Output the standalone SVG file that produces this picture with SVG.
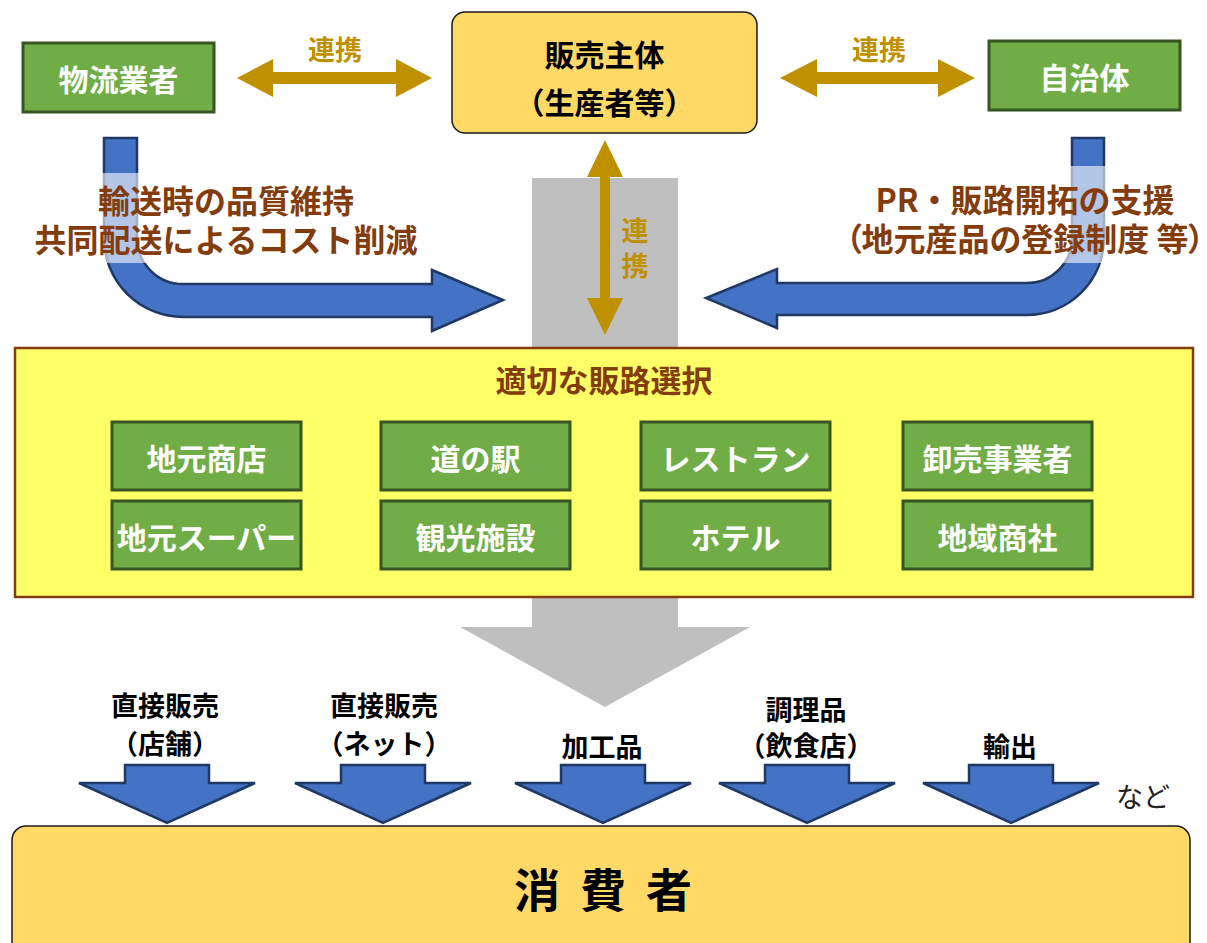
<svg xmlns="http://www.w3.org/2000/svg" width="1207" height="943" viewBox="0 0 1207 943">
<style>
text{font-family:"Noto Sans CJK JP","Noto Sans",sans-serif;text-anchor:middle;dominant-baseline:central}
.g{fill:#70AD47;stroke:#375623;stroke-width:3}
.gt{fill:#fff;font-size:30px;font-weight:bold}
.gold{fill:#BF9000}
.goldt{fill:#BF9000;font-size:27px;font-weight:bold}
.blue{fill:#4472C4;stroke:#1F3864;stroke-width:2.5;stroke-linejoin:miter}
.br{fill:#843C0C;font-size:32px;font-weight:bold}
.bk{fill:#000;font-size:27px;font-weight:bold}
.gray{fill:#BFBFBF}
.palt{font-feature-settings:"palt" 1}
</style>
<rect width="1207" height="943" fill="#fff"/>
<g id="connectors">
<rect class="gray" x="532" y="178" width="146" height="172"/>
<polygon class="gray" points="532,597 678,597 678,627 750,627 605,707 460,627 532,627"/>
<polygon class="gold" points="237,78 273,59 273,72 396,72 396,59 432,78 396,97 396,84 273,84 273,97"/>
<text class="goldt" x="335" y="48">連携</text>
<polygon class="gold" points="780,78 817,59 817,72 938,72 938,59 975,78 938,97 938,84 817,84 817,97"/>
<text class="goldt" x="879" y="48">連携</text>
<polygon class="gold" points="605,140 623,177 610,177 610,298 623,298 605,335 587,298 600,298 600,177 587,177"/>
<text class="goldt" x="635" y="229" style="font-weight:600">連</text>
<text class="goldt" x="635" y="264" style="font-weight:600">携</text>
<path class="blue" d="M104,138 L137,138 L137,238 A46,46 0 0 0 183,284 L432,284 L432,270 L503,300 L432,331 L432,317 L183,317 A79,79 0 0 1 104,238 Z"/>
<path class="blue" d="M1072,138 L1104,138 L1104,238 A77,77 0 0 1 1027,315 L777,315 L777,328 L706,298 L777,269 L777,283 L1027,283 A45,45 0 0 0 1072,238 Z"/>
<rect x="40" y="173" width="375" height="90" fill="#fff" fill-opacity="0.6"/>
<rect x="840" y="166" width="367" height="97" fill="#fff" fill-opacity="0.6"/>
<text class="br" x="226" y="199">輸送時の品質維持</text>
<text class="br" x="226" y="238">共同配送によるコスト削減</text>
<text class="br" x="1025" y="198">PR・販路開拓の支援</text>
<text class="br palt" x="1025" y="237">（地元産品の登録制度 等）</text>
</g>
<g id="butsuryu"><rect class="g" x="23" y="43" width="191" height="69"/><text class="gt" x="118.5" y="78">物流業者</text></g>
<g id="hanbai"><rect x="452" y="12" width="305" height="121" rx="13" fill="#FFD966" stroke="#1a1a1a" stroke-width="1.5"/><text class="bk" x="604.5" y="53" style="font-size:30px">販売主体</text><text class="bk" x="604.5" y="101" style="font-size:30px">（生産者等）</text></g>
<g id="jichitai"><rect class="g" x="989" y="41" width="191" height="69"/><text class="gt" x="1084.5" y="76">自治体</text></g>
<g id="senntaku">
<rect x="15" y="348" width="1178" height="249" fill="#FFFF66" stroke="#843C0C" stroke-width="2.5"/>
<text class="br" x="604" y="378" style="font-size:31px">適切な販路選択</text>
</g>
<g id="n1"><rect class="g" x="112" y="422" width="189" height="68"/><text class="gt" x="206.5" y="457">地元商店</text></g>
<g id="n2"><rect class="g" x="381" y="422" width="189" height="68"/><text class="gt" x="475.5" y="457">道の駅</text></g>
<g id="n3"><rect class="g" x="641" y="422" width="189" height="68"/><text class="gt" x="735.5" y="457">レストラン</text></g>
<g id="n4"><rect class="g" x="903" y="422" width="189" height="68"/><text class="gt" x="997.5" y="457">卸売事業者</text></g>
<g id="n5"><rect class="g" x="112" y="501" width="189" height="68"/><text class="gt" x="206.5" y="536">地元スーパー</text></g>
<g id="n6"><rect class="g" x="381" y="501" width="189" height="68"/><text class="gt" x="475.5" y="536">観光施設</text></g>
<g id="n7"><rect class="g" x="641" y="501" width="189" height="68"/><text class="gt" x="735.5" y="536">ホテル</text></g>
<g id="n8"><rect class="g" x="903" y="501" width="189" height="68"/><text class="gt" x="997.5" y="536">地域商社</text></g>
<g id="channels">
<polygon class="blue" points="125,765 209,765 209,783 255,783 167,823 79,783 125,783"/>
<polygon class="blue" points="341,765 425,765 425,783 471,783 383,823 295,783 341,783"/>
<polygon class="blue" points="561,765 645,765 645,783 691,783 603,823 515,783 561,783"/>
<polygon class="blue" points="765,765 849,765 849,783 895,783 807,823 719,783 765,783"/>
<polygon class="blue" points="969,765 1053,765 1053,783 1099,783 1011,823 923,783 969,783"/>
<text class="bk" x="165" y="704">直接販売</text>
<text class="bk" x="165" y="742">（店舗）</text>
<text class="bk" x="384" y="704">直接販売</text>
<text class="bk" x="384" y="742">（ネット）</text>
<text class="bk" x="602" y="745">加工品</text>
<text class="bk" x="806" y="708">調理品</text>
<text class="bk" x="806" y="744">（飲食店）</text>
<text class="bk" x="1010" y="745">輸出</text>
<text x="1143" y="795" style="font-size:27px;fill:#222;font-weight:normal">など</text>
</g>
<g id="consumer"><rect x="12" y="826" width="1178" height="140" rx="14" fill="#FFD966" stroke="#1a1a1a" stroke-width="1.5"/><text x="603" y="887" style="font-size:46px;font-weight:bold;letter-spacing:20px" dx="10">消費者</text></g>
</svg>
